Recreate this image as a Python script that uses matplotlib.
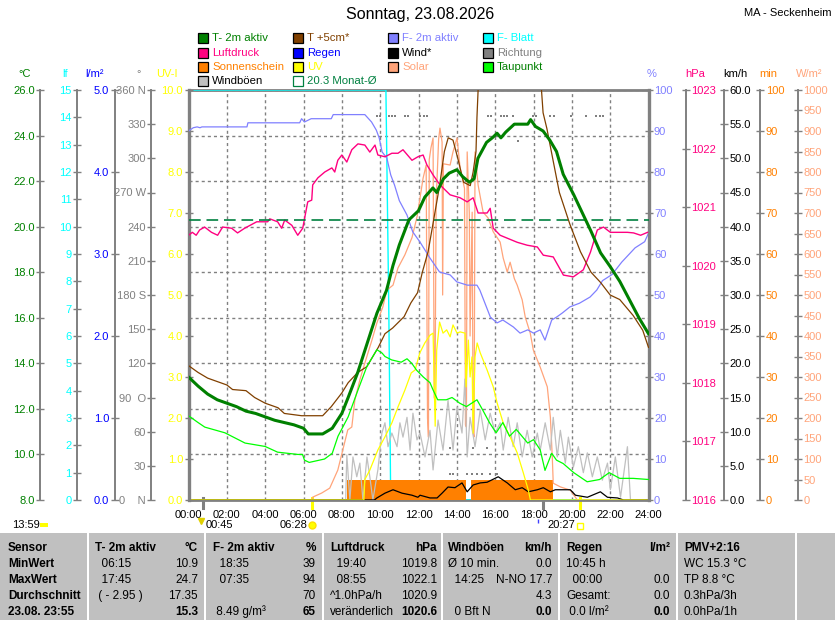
import numpy as np
import matplotlib.pyplot as plt
from matplotlib.patches import Rectangle
from matplotlib.lines import Line2D

plt.rcParams['font.family'] = ['Liberation Sans', 'DejaVu Sans']
plt.rcParams['font.size'] = 8

W, H = 835, 620
L, R, TOP, BOT = 188.5, 648.5, 90, 500
GRAY = '#808080'

# ---------------- data ----------------
hour_labels = ['00:00', '02:00', '04:00', '06:00', '08:00', '10:00', '12:00',
               '14:00', '16:00', '18:00', '20:00', '22:00', '24:00']

t2m_h = [0.0, 0.5, 1.0, 1.5, 2.0, 2.5, 3.0, 3.5, 4.0, 4.5, 5.0, 5.5, 6.0, 6.25, 7.0, 7.5, 8.0, 8.33, 8.83, 9.33,
         9.83, 10.33, 10.67, 11.0, 11.5, 12.0, 12.33, 12.75, 12.95, 13.3, 13.6, 14.0, 14.3, 14.65, 14.9, 15.1,
         15.55, 15.85, 16.1, 16.3, 16.55, 17.0, 17.7, 17.85, 18.1, 18.5, 18.85, 19.2, 19.55, 20.1, 20.55, 21.0,
         21.5, 22.0, 22.5, 23.0, 23.5, 24.0]
t2m = [13.4, 13.0, 12.65, 12.4, 12.25, 12.1, 11.9, 11.8, 11.65, 11.5, 11.4, 11.3, 11.15, 10.9, 10.9, 11.15, 11.8,
       12.5, 13.6, 14.9, 16.2, 17.2, 18.3, 19.2, 20.3, 20.7, 21.3, 21.7, 21.5, 22.1, 22.35, 22.5, 22.2, 21.95, 22.1,
       23.0, 23.7, 23.9, 24.1, 23.9, 24.15, 24.5, 24.5, 24.7, 24.4, 24.2, 23.8, 23.3, 22.3, 21.4, 20.6, 19.8, 18.85,
       18.25, 17.6, 16.8, 16.0, 15.3]

t5cm_h = [0.0, 0.5, 1.0, 2.0, 2.3, 3.0, 3.45, 4.0, 4.67, 5.0, 5.9, 7.0, 7.45, 8.0, 8.33, 8.83, 9.3, 9.9, 10.25,
          10.65, 11.25, 11.6, 11.95, 12.2, 12.5, 12.75, 13.1, 13.35, 13.55, 13.8, 14.05, 14.25, 14.35, 14.7, 14.85,
          15.0, 15.05, 15.12, 16.0, 17.5, 18.4, 18.5, 18.7, 19.0, 19.35, 19.9, 20.45, 21.0, 21.5, 22.0, 22.5, 23.2,
          23.7, 24.0]
t5cm = [13.9, 13.6, 13.35, 13.05, 12.85, 12.8, 12.5, 12.25, 12.05, 11.8, 11.7, 11.7, 12.1, 12.7, 13.15, 13.6, 13.85,
        14.7, 15.3, 15.55, 16.05, 16.65, 17.1, 18.0, 18.9, 20.1, 21.8, 23.3, 23.9, 23.8, 23.0, 22.3, 21.95, 21.8,
        22.4, 23.3, 24.8, 26.2, 30.0, 30.0, 26.2, 25.0, 24.3, 23.0, 21.5, 20.1, 18.9, 18.0, 17.55, 17.0, 16.8, 16.1,
        15.45, 14.7]

dew_h = [0.0, 0.5, 0.85, 1.9, 2.95, 3.3, 4.0, 4.65, 5.7, 5.95, 6.05, 6.3, 7.1, 7.5, 7.8, 8.33, 8.83, 9.3, 9.83,
         10.1, 10.25, 10.6, 11.1, 11.4, 11.65, 11.9, 12.25, 12.6, 12.75, 13.0, 13.45, 13.75, 14.15, 14.5, 15.05,
         15.35, 15.7, 16.05, 16.4, 16.75, 17.1, 17.7, 18.0, 18.35, 18.6, 18.95, 19.2, 19.55, 20.1, 20.8, 21.45,
         21.95, 22.5, 23.2, 24.0]
dew = [11.7, 11.4, 11.2, 10.95, 10.5, 10.45, 10.35, 10.1, 10.0, 10.0, 9.75, 9.65, 9.8, 10.05, 10.8, 11.65, 12.8,
       13.85, 14.6, 14.45, 14.3, 14.15, 14.05, 14.2, 14.0, 13.7, 13.4, 13.15, 12.85, 12.4, 12.4, 12.5, 12.25, 12.1,
       12.4, 11.95, 11.4, 10.95, 11.4, 10.8, 11.1, 10.5, 10.65, 10.2, 9.3, 10.05, 9.75, 9.6, 9.2, 8.8, 8.9, 9.2,
       8.95, 8.95, 8.9]

month_avg = 20.3

hum_h = [0.0, 0.25, 0.45, 0.6, 0.7, 3.05, 3.1, 5.8, 5.9, 6.05, 6.4, 7.45, 7.55, 9.2, 9.55, 9.8, 9.95, 10.1, 10.35,
         10.55, 10.75, 11.0, 11.4, 11.7, 12.08, 12.6, 13.1, 13.65, 14.0, 14.55, 15.05, 15.2, 15.4, 15.75, 16.1,
         16.4, 16.95, 17.3, 17.7, 18.0, 18.35, 18.6, 18.95, 19.2, 19.5, 19.9, 20.4, 20.95, 21.3, 21.6, 22.1, 22.6,
         23.3, 23.8, 24.0]
hum = [90.0, 90.8, 91.0, 90.8, 91.0, 91.0, 92.0, 92.0, 93.0, 92.2, 93.0, 93.0, 94.0, 94.0, 92.2, 90.2, 88.3, 84.9,
       83.4, 79.3, 76.8, 73.0, 69.5, 65.4, 62.9, 59.0, 55.6, 54.9, 53.2, 52.4, 52.4, 51.2, 48.8, 44.6, 43.2, 43.9,
       42.2, 40.7, 41.5, 40.7, 41.5, 39.0, 43.9, 44.6, 45.6, 47.1, 48.0, 49.5, 51.2, 53.5, 55.0, 58.0, 61.5, 63.0,
       65.1]

leaf_h = [0.0, 10.3, 10.45, 10.55, 24.0]
leaf = [15.0, 15.0, 7.0, 0.0, 0.0]

press_h = [0.0, 0.2, 0.4, 0.58, 0.84, 1.2, 1.52, 1.78, 2.25, 2.56, 2.93, 3.56, 4.13, 4.24, 4.65, 4.86, 5.02, 5.39,
           5.7, 5.96, 6.07, 6.22, 6.43, 6.48, 6.75, 7.11, 7.48, 7.63, 7.79, 8.0, 8.26, 8.52, 8.84, 9.2, 9.46, 9.73,
           9.88, 10.25, 10.61, 10.93, 11.19, 11.66, 11.97, 12.24, 12.44, 12.76, 13.12, 13.65, 14.17, 14.54, 14.85,
           15.11, 15.58, 15.74, 15.9, 16.26, 16.63, 17.15, 17.67, 18.2, 18.51, 19.03, 19.56, 20.08, 20.6, 20.97,
           21.33, 21.65, 22.01, 22.54, 22.9, 23.22, 23.59, 23.95]
press = [1020.52, 1020.57, 1020.52, 1020.61, 1020.66, 1020.57, 1020.52, 1020.66, 1020.64, 1020.56, 1020.64, 1020.75,
         1020.75, 1020.80, 1020.75, 1020.64, 1020.78, 1020.69, 1020.52, 1020.64, 1020.83, 1021.09, 1021.12, 1021.38,
         1021.50, 1021.60, 1021.67, 1021.60, 1021.80, 1021.89, 1021.77, 1021.98, 1022.08, 1022.06, 1021.94, 1022.06,
         1021.89, 1021.86, 1021.92, 1021.92, 1021.98, 1021.80, 1021.86, 1021.89, 1021.72, 1021.55, 1021.38, 1021.21,
         1021.16, 1021.09, 1021.16, 1020.90, 1020.90, 1020.98, 1020.64, 1020.52, 1020.47, 1020.40, 1020.35, 1020.32,
         1020.18, 1020.15, 1019.84, 1019.81, 1019.93, 1020.23, 1020.61, 1020.66, 1020.57, 1020.57, 1020.57, 1020.56,
         1020.52, 1020.57]

uv_h = [0.0, 9.15, 9.2, 9.46, 9.88, 10.25, 10.61, 10.93, 11.29, 11.62, 11.82, 12.07, 12.33, 12.6, 12.76, 12.87,
        12.95, 13.1, 13.28, 13.47, 13.65, 13.8, 14.01, 14.17, 14.43, 14.48, 14.6, 14.69, 14.79, 14.85, 14.95, 15.06,
        15.22, 15.58, 15.9, 16.1, 16.42, 16.78, 17.15, 17.47, 17.73, 17.84, 24.0]
uv = [0.0, 0.0, 0.5, 0.73, 1.22, 1.54, 1.88, 2.27, 2.68, 3.1, 3.17, 3.59, 3.83, 4.02, 4.07, 1.8, 3.66, 4.34, 4.07,
      4.15, 3.98, 4.27, 4.07, 4.1, 4.07, 2.76, 3.9, 3.0, 3.49, 1.63, 3.49, 3.83, 3.59, 3.17, 2.76, 2.37, 1.88, 1.54,
      1.15, 0.66, 0.24, 0.0, 0.0]

solar_h = [0.0, 6.45, 6.48, 6.95, 7.37, 7.79, 8.05, 8.31, 8.52, 8.68, 8.94, 9.2, 9.57, 9.83, 10.14, 10.35, 10.67,
           10.93, 11.29, 11.66, 11.92, 12.08, 12.24, 12.4, 12.47, 12.52, 12.56, 12.65, 12.76, 12.82, 12.86, 12.92,
           13.05, 13.12, 13.23, 13.26, 13.3, 13.65, 13.8, 14.01, 14.17, 14.4, 14.45, 14.5, 14.54, 14.65, 14.69, 14.8,
           14.85, 14.9, 14.95, 15.11, 15.37, 15.63, 15.9, 16.26, 16.42, 16.63, 16.78, 17.0, 17.15, 17.41, 17.57,
           17.83, 17.99, 18.35, 18.72, 18.88, 18.98, 19.03, 19.4, 19.92, 20.29, 24.0]
solar = [0, 0, 7, 17, 29, 73, 122, 171, 178, 244, 293, 334, 390, 432, 471, 512, 524, 566, 598, 640, 690, 737, 785,
         817, 200, 153, 830, 859, 883, 250, 244, 727, 880, 907, 873, 500, 820, 817, 849, 883, 810, 760, 183, 178, 849,
         700, 400, 702, 163, 154, 849, 768, 702, 688, 654, 629, 590, 556, 580, 540, 524, 488, 446, 407, 366, 324, 276,
         202, 105, 41, 32, 24, 0, 0]

gust_h = [0.0, 8.2, 8.26, 8.42, 8.58, 8.78, 8.94, 9.1, 9.31, 9.46, 9.62, 9.88, 10.09, 10.25, 10.41, 10.61, 10.88,
          11.03, 11.19, 11.4, 11.56, 11.71, 11.92, 12.08, 12.34, 12.6, 12.76, 13.02, 13.28, 13.54, 13.8, 14.01,
          14.27, 14.42, 14.54, 14.69, 14.95, 15.22, 15.48, 15.74, 16.0, 16.26, 16.42, 16.68, 16.94, 17.15, 17.41,
          17.67, 17.93, 18.2, 18.35, 18.61, 18.88, 19.03, 19.24, 19.4, 19.66, 19.82, 20.08, 20.34, 20.6, 20.81,
          21.07, 21.33, 21.59, 21.86, 22.01, 22.27, 22.54, 22.9, 23.06, 24.0]
gust = [0.0, 0.0, 6.6, 0.0, 6.3, 3.4, 5.4, 0.0, 6.3, 3.4, 0.0, 4.4, 9.8, 11.3, 7.8, 9.8, 7.8, 11.3, 9.2, 12.1, 7.3,
        12.7, 8.8, 9.8, 6.3, 10.2, 4.4, 11.7, 7.3, 14.6, 7.3, 13.6, 9.8, 17.7, 6.3, 12.1, 7.8, 13.2, 8.8, 12.7, 9.8,
        11.3, 7.3, 12.1, 7.8, 11.3, 6.3, 10.2, 6.3, 9.8, 7.3, 11.3, 7.3, 12.1, 6.3, 10.2, 5.4, 9.2, 4.8, 7.8, 4.0,
        6.9, 3.4, 6.3, 2.9, 5.4, 1.5, 6.3, 0.4, 7.8, 0.0, 0.0]

wind_h = [0.0, 9.7, 9.83, 10.25, 10.67, 11.14, 11.66, 11.97, 12.08, 12.6, 12.97, 13.23, 13.54, 13.9, 14.27, 14.54,
          14.85, 15.22, 15.58, 16.16, 16.63, 17.05, 17.41, 17.73, 18.2, 18.51, 18.88, 19.14, 19.4, 19.92, 20.19,
          20.81, 21.49, 21.86, 22.38, 22.7, 24.0]
wind = [0.0, 0.0, 0.3, 1.0, 1.5, 1.0, 0.7, 0.4, 0.7, 0.3, 0.3, 1.0, 1.9, 1.8, 2.5, 1.2, 2.2, 2.5, 2.6, 3.4, 2.5, 1.5,
        1.8, 1.2, 1.5, 1.8, 1.2, 1.5, 1.5, 1.5, 0.7, 0.4, 1.2, 0.4, 0.3, 0.0, 0.0]

dir_h = [9.83, 9.99, 10.46, 10.61, 10.77, 11.29, 11.45, 12.08, 12.29, 12.44, 15.63, 15.79, 16.31, 16.47, 16.63,
         16.94, 17.99, 18.14, 18.88, 19.08, 19.97, 20.76, 21.28, 21.49, 21.65, 17.2, 13.65, 14.85, 15.58, 13.65,
         13.8, 14.54, 14.8, 15.06, 15.32, 15.74, 16.1]
dir_deg = [337, 337, 337, 337, 337, 337, 337, 337, 337, 337, 337, 337, 337, 337, 337, 337, 337, 337, 337, 337, 337,
           337, 337, 337, 337, 315, 46, 46, 46, 23, 23, 23, 23, 23, 23, 23, 23]

sun_start = [8.28, 14.72]
sun_end = [14.46, 19.0]
sun_min = [5.0, 5.0]

moon_marks = [0.75, 18.5]
sun_marks = [6.467, 20.45]

# ---------------- figure ----------------
fig = plt.figure(figsize=(W / 100, H / 100), dpi=100)
ax = fig.add_axes([L / W, 1 - BOT / H, (R - L) / W, (BOT - TOP) / H])
ax.set_xlim(0, 24)
ax.set_ylim(8, 26)


def scale_axis(side, pos, lo, hi, step, color, fmt=None, labels=None, frame=False):
    a = ax.twinx()
    a.set_ylim(lo, hi)
    for name, sp in a.spines.items():
        sp.set_visible(name == side)
    a.spines[side].set_position(('axes', pos))
    a.spines[side].set_color(GRAY)
    a.spines[side].set_linewidth(2.4 if frame else 1.4)
    a.yaxis.set_ticks_position(side)
    ticks = np.arange(lo, hi + step / 2, step)
    a.set_yticks(ticks)
    if labels is None:
        labels = [fmt % v for v in ticks]
    a.set_yticklabels(labels)
    a.tick_params(axis='y', direction='inout', length=5.5, width=1, color=GRAY,
                  labelcolor=color, pad=1.2, labelsize=8)
    return a


# drawing order = creation order
a_lf = scale_axis('left', -0.2425, 0, 15, 1, '#00ffff', '%d')
a_lf.plot(leaf_h, leaf, color='#00ffff', lw=1)

a_min = scale_axis('right', 1.2429, 0, 100, 10, '#ff8000', '%d')
a_min.bar(sun_start, sun_min, width=np.subtract(sun_end, sun_start), align='edge',
          color='#ff8000', linewidth=0)

a_sol = scale_axis('right', 1.325, 0, 1000, 50, '#ffa47a', '%d')
a_sol.plot(solar_h, solar, color='#ffa47a', lw=0.9)

a_km = scale_axis('right', 1.1638, 0, 60, 5, 'black', '%.1f')
a_km.plot(gust_h, gust, color='#c0c0c0', lw=0.9)
a_km.plot(wind_h, wind, color='black', lw=0.9)

a_uv = scale_axis('left', 0.0, 0, 10, 1, '#ffff00', '%.1f', frame=True)
a_uv.plot(uv_h, uv, color='#ffff00', lw=0.9)

dir_labels = ['0    N', '30', '60', '90  O', '120', '150', '180 S', '210', '240',
              '270 W', '300', '330', '360 N']
a_dir = scale_axis('left', -0.0806, 0, 360, 30, GRAY, labels=dir_labels)
a_dir.scatter(dir_h, dir_deg, marker='s', s=3, color=GRAY, linewidths=0)

a_hum = scale_axis('right', 1.0, 0, 100, 10, '#8080ff', '%d', frame=True)
a_hum.plot(hum_h, hum, color='#8080ff', lw=0.9)

a_hpa = scale_axis('right', 1.0817, 1016, 1023, 1, '#ff0080', '%d')
a_hpa.plot(press_h, press, color='#ff0080', lw=1)

a_rain = scale_axis('left', -0.1604, 0, 5, 1, '#0000ff', '%.1f')

a_c = scale_axis('left', -0.3225, 8, 26, 2, '#008000', '%.1f')
a_c.axhline(month_avg, color='#008040', lw=1.2, dashes=(7, 3.5))
a_c.plot(t5cm_h, t5cm, color='#804000', lw=0.9)
a_c.plot(dew_h, dew, color='#00ff00', lw=0.9)
a_c.plot(t2m_h, t2m, color='#008000', lw=2.2)

# frame, grid, time axis
ax.set_xticks(np.arange(0, 25, 2))
ax.set_xticklabels(hour_labels)
ax.set_yticks(np.arange(8, 27, 2))
ax.tick_params(axis='y', left=False, right=False, labelleft=False, labelright=False)
ax.tick_params(axis='x', length=0, pad=7, labelsize=8)
ax.grid(True, color=GRAY, linestyle=(0, (2.2, 2.2)), linewidth=1)
for name, sp in ax.spines.items():
    sp.set_color(GRAY)
    sp.set_linewidth(2.0)

# sun / moon marks on the time axis
for h in moon_marks:
    ax.plot([h, h], [-0.02, 0.005], transform=ax.get_xaxis_transform(), color=GRAY, lw=2.2, clip_on=False)
for h in sun_marks:
    ax.plot([h, h], [-0.02, 0.005], transform=ax.get_xaxis_transform(), color='#ffff00', lw=2.2, clip_on=False)


def ftext(x, y, s, **kw):
    fig.text(x / W, 1 - y / H, s, **kw)


def fmark(x, y, **kw):
    fig.add_artist(Line2D([x / W], [1 - y / H], transform=fig.transFigure, linestyle='none', **kw))


ftext(12, 525, '13:59', va='center', fontsize=8)
fig.add_artist(Rectangle((40 / W, 1 - 527 / H), 8 / W, 4 / H, color='#ffff00', lw=0))
ftext(206, 525, '00:45', va='center', fontsize=8)
fmark(201, 521, marker='v', markersize=4, color='#e0d000')
ftext(280, 525, '06:28', va='center', fontsize=8)
fmark(312, 525, marker='o', markersize=5, markerfacecolor='#ffff00', markeredgecolor='#ffe000')
ftext(547, 525, '20:27', va='center', fontsize=8)
fig.add_artist(Rectangle((577 / W, 1 - 529 / H), 6 / W, 6 / H, facecolor='none',
                         edgecolor='#ffff00', lw=1))
fmark(538, 521, marker='|', markersize=3, color='#4040ff')

# title
ftext(420, 15, 'Sonntag, 23.08.2026', ha='center', va='center', fontsize=11.5)
ftext(831, 13, 'MA - Seckenheim', ha='right', va='center', fontsize=8)

# legend
legend_items = [
    ('T- 2m aktiv', '#008000', '#008000'), ('Luftdruck', '#ff0080', '#ff0080'),
    ('Sonnenschein', '#ff8000', '#ff8000'), ('Windböen', '#c0c0c0', 'black'),
    ('T +5cm*', '#804000', '#804000'), ('Regen', '#0000ff', '#0000ff'),
    ('UV', '#ffff00', '#ffff00'), ('20.3 Monat-Ø', 'none', '#008040'),
    ('F- 2m aktiv', '#8080ff', '#8080ff'), ('Wind*', 'black', 'black'),
    ('Solar', '#ffa47a', '#ffa47a'), (None, None, None),
    ('F- Blatt', '#00ffff', '#00ffff'), ('Richtung', GRAY, GRAY),
    ('Taupunkt', '#00ff00', '#008000'), (None, None, None),
]
leg_x = [198, 293, 388, 483]
leg_y = [38, 52.5, 66.5, 80.5]
for i, (lab, box, tcol) in enumerate(legend_items):
    if lab is None:
        continue
    cx, ry = leg_x[i // 4], leg_y[i % 4]
    edge = '#008040' if box == 'none' else 'black'
    fig.add_artist(Rectangle((cx / W, 1 - (ry + 5) / H), 10 / W, 10 / H,
                             facecolor=box, edgecolor=edge, lw=0.9))
    ftext(cx + 14, ry, lab, va='center', color=tcol, fontsize=8.2)

# unit labels
units = [(25, '°C', '#008000'), (65, 'lf', '#00ffff'), (95, 'l/m²', '#0000ff'),
         (139, '°', GRAY), (167, 'UV-I', '#ffff00'), (652, '%', '#8080ff'),
         (695, 'hPa', '#ff0080'), (735, 'km/h', 'black'), (768, 'min', '#ff8000'),
         (809, 'W/m²', '#ffa47a')]
for x, s, c in units:
    ftext(x, 74, s, ha='center', va='center', color=c, fontsize=8)

# ---------------- table ----------------
fig.add_artist(Rectangle((0, 0), 1, 1 - 533 / H, color='#c0c0c0', lw=0))
for x in [87, 204, 322, 441, 558, 676, 795]:
    fig.add_artist(Rectangle((x / W, 0), 2 / W, 1 - 533 / H, color='white', lw=0))

row_y = [548, 564, 580, 596, 612]
sensor_col = ['Sensor', 'MinWert', 'MaxWert', 'Durchschnitt', '23.08. 23:55']
tab_titles = ['T- 2m aktiv', 'F- 2m aktiv', 'Luftdruck', 'Windböen', 'Regen']
tab_units = ['°C', '%', 'hPa', 'km/h', 'l/m²']
tab_left = [['  06:15', '  17:45', ' ( - 2.95 )', ''],
            ['  18:35', '  07:35', '', ' 8.49 g/m³'],
            ['  19:40', '  08:55', '^1.0hPa/h', 'veränderlich'],
            ['Ø 10 min.', '  14:25', '', '  0 Bft N'],
            ['10:45 h', '  00:00', 'Gesamt:', ' 0.0 l/m²']]
tab_right = [['10.9', '24.7', '17.35', '15.3'],
             ['39', '94', '70', '65'],
             ['1019.8', '1022.1', '1020.9', '1020.6'],
             ['0.0', 'N-NO 17.7', '4.3', '0.0'],
             ['', '0.0', '0.0', '0.0']]
tab_x = [(95, 198), (213, 316), (330, 437), (448, 552), (566, 670)]
pmv_col = ['PMV+2:16', 'WC 15.3 °C', 'TP 8.8 °C', '0.3hPa/3h', '0.0hPa/1h']

for j, s in enumerate(sensor_col):
    ftext(8, row_y[j], s, va='center', fontweight='bold', fontsize=8.5)
for k in range(5):
    xl, xr = tab_x[k]
    ftext(xl, row_y[0], tab_titles[k], va='center', fontweight='bold', fontsize=8.5)
    ftext(xr, row_y[0], tab_units[k], va='center', ha='right', fontweight='bold', fontsize=8.5)
    for j in range(4):
        ftext(xl, row_y[j + 1], tab_left[k][j], va='center', fontsize=8.5)
        ftext(xr, row_y[j + 1], tab_right[k][j], va='center', ha='right', fontsize=8.5,
              fontweight='bold' if j == 3 else 'normal')
for j, s in enumerate(pmv_col):
    ftext(684, row_y[j], s, va='center', fontsize=8.5, fontweight='bold' if j == 0 else 'normal')

fig.savefig('out.png', dpi=100)
